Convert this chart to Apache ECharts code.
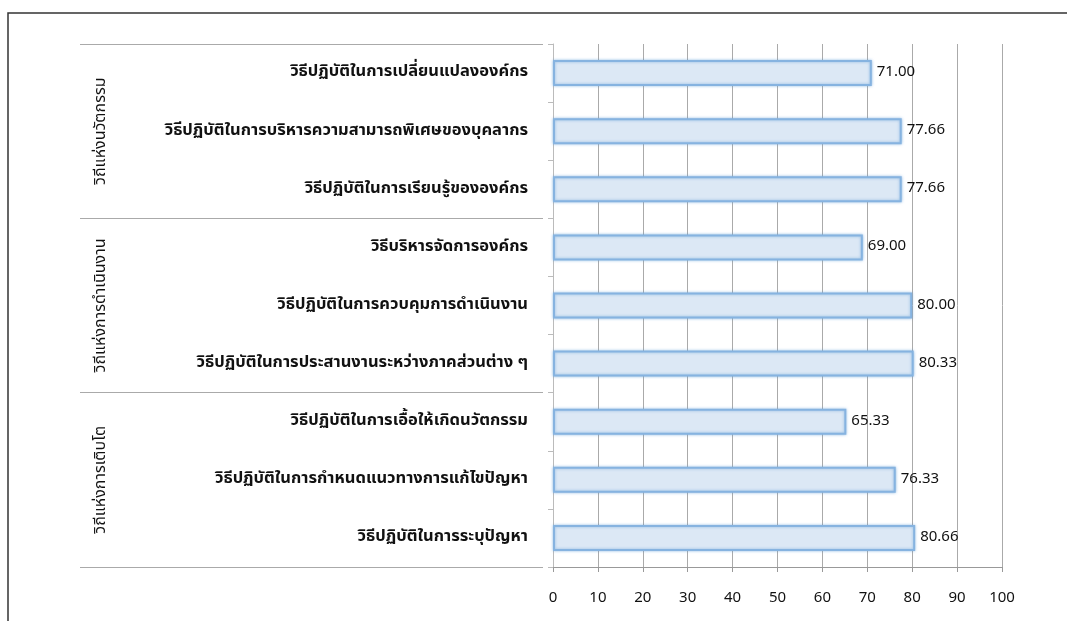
<!DOCTYPE html>
<html><head><meta charset="utf-8">
<script src="https://cdn.jsdelivr.net/npm/echarts@6/dist/echarts.min.js"></script>
<style>html,body{margin:0;padding:0;background:#fff}#c{width:1067px;height:621px}</style>
</head><body><div id="c"></div>
<script>
const categories = [
  'วิธีปฏิบัติในการเปลี่ยนแปลงองค์กร',
  'วิธีปฏิบัติในการบริหารความสามารถพิเศษของบุคลากร',
  'วิธีปฏิบัติในการเรียนรู้ขององค์กร',
  'วิธีบริหารจัดการองค์กร',
  'วิธีปฏิบัติในการควบคุมการดำเนินงาน',
  'วิธีปฏิบัติในการประสานงานระหว่างภาคส่วนต่าง ๆ',
  'วิธีปฏิบัติในการเอื้อให้เกิดนวัตกรรม',
  'วิธีปฏิบัติในการกำหนดแนวทางการแก้ไขปัญหา',
  'วิธีปฏิบัติในการระบุปัญหา'
];
const values = [71.00, 77.66, 77.66, 69.00, 80.00, 80.33, 65.33, 76.33, 80.66];
const groups = ['วิถีแห่งนวัตกรรม', 'วิถีแห่งการดำเนินงาน', 'วิถีแห่งการเติบโต'];
const xTicks = [0, 10, 20, 30, 40, 50, 60, 70, 80, 90, 100];

const FONT = "Tahoma, 'Noto Sans Thai', 'Noto Sans', 'DejaVu Sans', sans-serif";
const chart = echarts.init(document.getElementById('c'));
chart.setOption({
  backgroundColor: '#fff',
  animation: false,
  textStyle: { fontFamily: FONT },
  graphic: [{
    type: 'rect', shape: { x: 8, y: 13, width: 1200, height: 800 },
    style: { fill: 'none', stroke: '#333', lineWidth: 1.5 }, silent: true, z: -1
  }],
  grid: { left: 553, right: 65, top: 44, bottom: 54, containLabel: false },
  xAxis: {
    type: 'value', min: xTicks[0], max: xTicks[xTicks.length - 1], interval: 10,
    axisLine: { show: true, lineStyle: { color: '#999', width: 1 } },
    axisTick: { show: true, length: 5, lineStyle: { color: '#999' } },
    splitLine: { show: true, lineStyle: { color: '#aaa', width: 1 } },
    axisLabel: { color: '#111', fontSize: 15, margin: 24, fontFamily: FONT }
  },
  yAxis: [{
    type: 'category', data: categories, inverse: true, position: 'left',
    axisLine: { show: true, lineStyle: { color: '#bbb' } },
    axisTick: { show: true, length: 5, lineStyle: { color: '#bbb' } },
    axisLabel: { color: '#111', fontSize: 16.5, fontWeight: 'bold', margin: 25, fontFamily: FONT }
  }, {
    type: 'category', data: groups, inverse: true, position: 'left', offset: 10,
    axisLine: { show: false },
    axisTick: { show: true, length: 463, lineStyle: { color: '#aaa', width: 1 } },
    axisLabel: { color: '#111', fontSize: 16, rotate: 90, margin: 433, fontFamily: FONT }
  }],
  series: [{
    type: 'bar', data: values, yAxisIndex: 0, barWidth: 26,
    itemStyle: {
      color: '#dce8f5', borderColor: '#86b3e0', borderWidth: 2,
      shadowBlur: 3, shadowColor: 'rgba(91,155,213,0.6)'
    },
    label: {
      show: true, position: 'right', distance: 5, color: '#111', fontSize: 15,
      fontFamily: FONT, formatter: p => p.value.toFixed(2)
    }
  }]
});
</script></body></html>
